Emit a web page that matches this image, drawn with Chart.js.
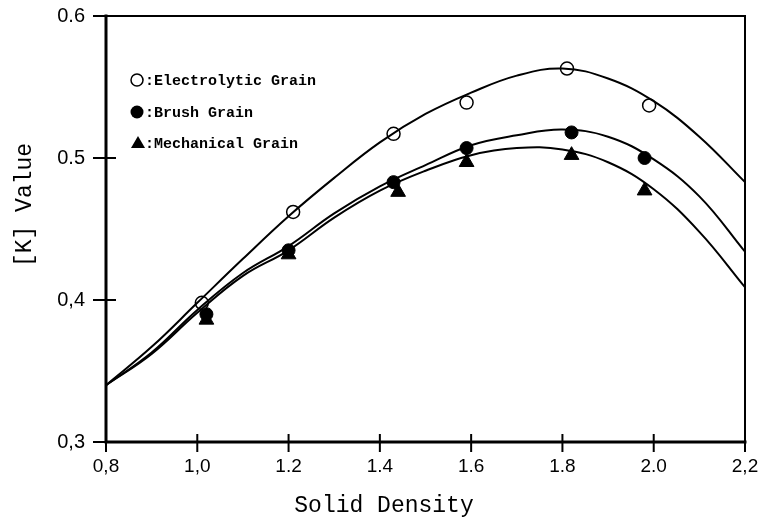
<!DOCTYPE html>
<html>
<head>
<meta charset="utf-8">
<script src="https://cdn.jsdelivr.net/npm/chart.js@4"></script>
<style>
  html, body { margin: 0; padding: 0; background: #fff; }
  #wrap { width: 763px; height: 524px; }
</style>
</head>
<body>
<div id="wrap"><canvas id="kChart"></canvas></div>
<script>
// measured points
const electroX = [1.01, 1.21, 1.43, 1.59, 1.81, 1.99];
const electroY = [0.398, 0.462, 0.517, 0.539, 0.563, 0.537];
const brushX = [1.02, 1.20, 1.43, 1.59, 1.82, 1.98];
const brushY = [0.390, 0.435, 0.483, 0.507, 0.518, 0.500];
const mechX = [1.02, 1.20, 1.44, 1.59, 1.82, 1.98];
const mechY = [0.386, 0.432, 0.476, 0.497, 0.502, 0.477];

// fitted curves
const curveX = [0.8, 0.9, 1.0, 1.1, 1.2, 1.3, 1.4, 1.5, 1.6, 1.7, 1.8, 1.9, 2.0, 2.1, 2.2];
const electroCurve = [0.340, 0.367, 0.398, 0.429, 0.459, 0.486, 0.511, 0.531, 0.546, 0.558, 0.563, 0.556, 0.540, 0.515, 0.483];
const brushCurve = [0.340, 0.363, 0.393, 0.419, 0.438, 0.461, 0.480, 0.495, 0.509, 0.516, 0.520, 0.515, 0.499, 0.473, 0.434];
const mechCurve = [0.340, 0.362, 0.391, 0.417, 0.435, 0.458, 0.477, 0.491, 0.502, 0.507, 0.506, 0.497, 0.478, 0.448, 0.409];

const xTicks = [0.8, 1.0, 1.2, 1.4, 1.6, 1.8, 2.0, 2.2];
const xTickLabels = ["0,8", "1,0", "1.2", "1.4", "1.6", "1.8", "2.0", "2,2"];
const yTicks = [0.3, 0.4, 0.5, 0.6];
const yTickLabels = ["0,3", "0,4", "0.5", "0.6"];

const legendNames = ["Electrolytic Grain", "Brush Grain", "Mechanical Grain"];
const xTitle = "Solid Density";
const yTitle = "[K] Value";

const toXY = (xs, ys) => xs.map((x, i) => ({ x: x, y: ys[i] }));

function curveSet(ys) {
  return {
    type: "line",
    data: toXY(curveX, ys),
    borderColor: "#000",
    borderWidth: 2,
    pointRadius: 0,
    tension: 0.4,
    fill: false,
  };
}

function noScalePadding(s) {
  s.paddingTop = 0;
  s.paddingBottom = 0;
  s.paddingLeft = 0;
  s.paddingRight = 0;
}

// axes with crossing ticks, thin top/right frame, titles and the in-plot legend
const framePlugin = {
  id: "frame",
  afterDatasetsDraw(chart) {
    const { ctx, chartArea: a, scales } = chart;
    ctx.save();
    ctx.strokeStyle = "#000";
    ctx.lineCap = "square";
    // thick bottom and left axis
    ctx.lineWidth = 3;
    ctx.beginPath();
    ctx.moveTo(a.left, a.top);
    ctx.lineTo(a.left, a.bottom);
    ctx.lineTo(a.right, a.bottom);
    ctx.stroke();
    // thinner top / right
    ctx.lineWidth = 2;
    ctx.beginPath();
    ctx.moveTo(a.left, a.top);
    ctx.lineTo(a.right, a.top);
    ctx.lineTo(a.right, a.bottom);
    ctx.stroke();
    // tick crosses
    xTicks.forEach((v) => {
      const px = scales.x.getPixelForValue(v);
      ctx.beginPath();
      ctx.moveTo(px, a.bottom - 7);
      ctx.lineTo(px, a.bottom + 9);
      ctx.stroke();
    });
    yTicks.forEach((v) => {
      const py = scales.y.getPixelForValue(v);
      ctx.beginPath();
      ctx.moveTo(a.left - 12, py);
      ctx.lineTo(a.left + 9, py);
      ctx.stroke();
    });

    // axis titles
    ctx.fillStyle = "#000";
    ctx.font = "23px 'Liberation Mono'";
    ctx.textAlign = "center";
    ctx.textBaseline = "middle";
    ctx.fillText(xTitle, 384, 506);
    ctx.save();
    ctx.translate(25, 205);
    ctx.rotate(-Math.PI / 2);
    ctx.fillText(yTitle, 0, 0);
    ctx.restore();

    // legend
    const lx = a.left + 31;
    const rows = [a.top + 64, a.top + 96, a.top + 127];
    ctx.lineWidth = 1.5;
    ctx.beginPath();
    ctx.arc(lx, rows[0], 6, 0, Math.PI * 2);
    ctx.fillStyle = "#fff";
    ctx.fill();
    ctx.stroke();
    ctx.fillStyle = "#000";
    ctx.beginPath();
    ctx.arc(lx, rows[1], 6.5, 0, Math.PI * 2);
    ctx.fill();
    ctx.beginPath();
    ctx.moveTo(lx + 1, rows[2] - 7);
    ctx.lineTo(lx + 8, rows[2] + 5);
    ctx.lineTo(lx - 6, rows[2] + 5);
    ctx.closePath();
    ctx.fill();

    ctx.font = "bold 15px 'Liberation Mono'";
    ctx.textAlign = "left";
    legendNames.forEach((name, i) => {
      ctx.fillText(":" + name, lx + 8, rows[i] + 1);
    });
    ctx.restore();
  },
};

const ctx = document.getElementById("kChart");

new Chart(ctx, {
  type: "scatter",
  data: {
    datasets: [
      curveSet(electroCurve),
      curveSet(brushCurve),
      curveSet(mechCurve),
      {
        label: legendNames[0],
        data: toXY(electroX, electroY),
        pointStyle: "circle",
        pointRadius: 6.5,
        pointBackgroundColor: "#fff",
        pointBorderColor: "#000",
        pointBorderWidth: 1.5,
      },
      {
        label: legendNames[1],
        data: toXY(brushX, brushY),
        pointStyle: "circle",
        pointRadius: 6.5,
        pointBackgroundColor: "#000",
        pointBorderColor: "#000",
        pointBorderWidth: 1,
      },
      {
        label: legendNames[2],
        data: toXY(mechX, mechY),
        pointStyle: "triangle",
        pointRadius: 8.5,
        pointBackgroundColor: "#000",
        pointBorderColor: "#000",
        pointBorderWidth: 1,
      },
    ],
  },
  options: {
    responsive: true,
    maintainAspectRatio: false,
    animation: false,
    layout: { padding: { top: 16, right: 18, left: 0, bottom: 0 } },
    plugins: {
      legend: { display: false },
      tooltip: { enabled: false },
    },
    scales: {
      x: {
        type: "linear",
        min: 0.8,
        max: 2.2,
        afterFit: (s) => { s.height = 82; noScalePadding(s); },
        afterBuildTicks: (s) => { s.ticks = xTicks.map((v) => ({ value: v })); },
        grid: { display: false, drawTicks: false },
        border: { display: false },
        ticks: {
          padding: 13,
          color: "#000",
          font: { family: "'Liberation Sans'", size: 19 },
          callback: (v) => xTickLabels[xTicks.findIndex((t) => Math.abs(t - v) < 1e-6)],
        },
      },
      y: {
        type: "linear",
        min: 0.3,
        max: 0.6,
        afterFit: (s) => { s.width = 106; noScalePadding(s); },
        afterBuildTicks: (s) => { s.ticks = yTicks.map((v) => ({ value: v })); },
        grid: { display: false, drawTicks: false },
        border: { display: false },
        ticks: {
          padding: 21,
          color: "#000",
          font: { family: "'Liberation Sans'", size: 20 },
          callback: (v) => yTickLabels[yTicks.findIndex((t) => Math.abs(t - v) < 1e-6)],
        },
      },
    },
  },
  plugins: [framePlugin],
});
</script>
</body>
</html>
